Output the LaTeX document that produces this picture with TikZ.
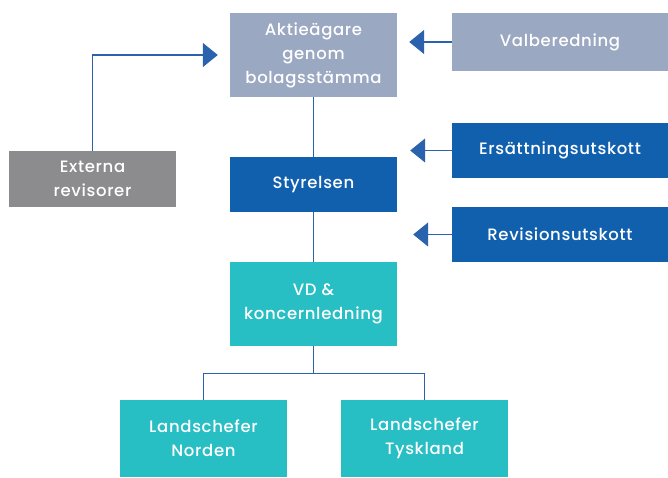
\documentclass[tikz,border=0pt]{standalone}
\usepackage{fontspec}
\setmainfont{Poppins}[UprightFont={* Medium}, LetterSpace=4]
\usepackage{tikz}
\usetikzlibrary{positioning,arrows.meta}
\usepackage{xcolor}
\definecolor{grayblue}{HTML}{9BA8C1}
\definecolor{darkblue}{HTML}{1160AE}
\definecolor{teal}{HTML}{27BEC4}
\definecolor{midgray}{HTML}{8C8C8E}
\definecolor{lineblue}{HTML}{2A62AE}

\begin{document}
\begin{tikzpicture}[x=1pt, y=-1pt]
      \tikzset{
	  box/.style={rectangle, inner sep=0pt, text=white, align=center, font=\fontsize{16.5}{24}\selectfont},
	  narrowbox/.style={box, minimum width=167pt},
	  widebox/.style={box, minimum width=216pt, minimum height=55pt, fill=darkblue},
	  link/.style={draw=lineblue, line width=1.3pt},
	  arr/.style={link, -{Triangle[length=15pt,width=24pt]}}
      }
      \useasboundingbox (0,0) rectangle (668,477);

      % top row
      \node at (313.5, 55) [narrowbox, minimum height=84pt, fill=grayblue] (agare) {Aktieägare\\genom\\bolagsstämma};
      \node at (560, 42) [widebox, minimum height=58pt, fill=grayblue] (valb) {Valberedning};
      \node at (92.5, 179) [narrowbox, minimum height=56pt, fill=midgray] (ext) {Externa\\revisorer};

      % board and committees
      \node at (313.5, 184.5) [narrowbox, minimum height=55pt, fill=darkblue] (styr) {Styrelsen};
      \node at (560, 150.5) [widebox] (ers) {Ersättningsutskott};
      \node at (560, 234.5) [widebox] (rev) {Revisionsutskott};

      % management
      \node at (313.5, 304) [narrowbox, minimum height=84pt, fill=teal] (vd) {VD \&\\koncernledning};
      \node at (203.5, 438.5) [narrowbox, minimum height=77pt, fill=teal] (nord) {Landschefer\\Norden};
      \node at (424.5, 438.5) [narrowbox, minimum height=77pt, fill=teal] (tysk) {Landschefer\\Tyskland};

      % connectors
      \draw[link] (agare.south) -- (styr.north);
      \draw[link] (styr.south) -- (vd.north);
      \draw[link] (vd.south) -- ++(0,27) -| (nord.north);
      \draw[link] (vd.south) -- ++(0,27) -| (tysk.north);

      \draw[arr, shorten >=12pt] (ext.north) |- (agare.west);
      \draw[arr, shorten >=12pt] (valb.west) -- (valb.west -| agare.east);
      \draw[arr, shorten >=13pt] (ers.west) -- (ers.west -| styr.east);
      \draw[arr, shorten >=16pt] (rev.west) -- (rev.west -| styr.east);
\end{tikzpicture}
\end{document}
